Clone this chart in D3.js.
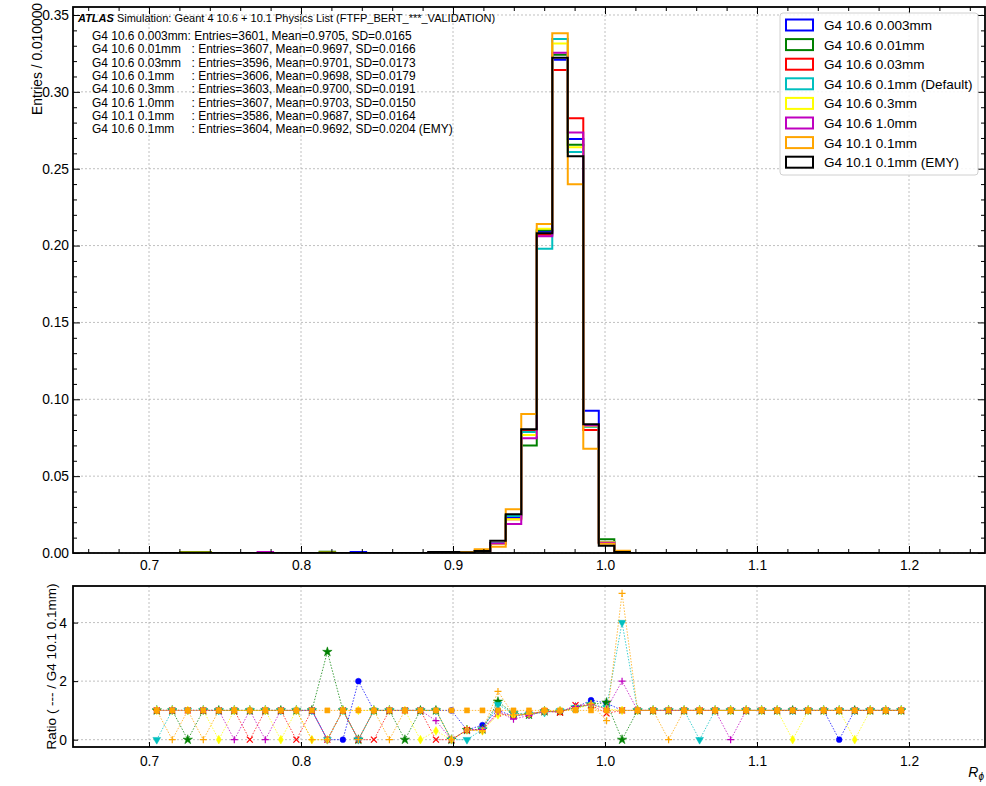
<!DOCTYPE html>
<html>
<head>
<meta charset="utf-8">
<script src="https://cdn.jsdelivr.net/npm/d3@7/dist/d3.min.js"></script>
<style>
  body { margin: 0; background: #fff; }
  text { font-family: "Liberation Sans", Arial, Helvetica, sans-serif; fill: #000; }
</style>
</head>
<body>
<svg id="chart" width="986" height="786"></svg>
<script>
// ---- binning (R_phi histogram: 49 bins between 0.70 and 1.20) ----
const binLow = 0.70, binHigh = 1.20, nBins = 49;

// ---- series ----
const seriesNames = ["G4 10.6 0.003mm", "G4 10.6 0.01mm", "G4 10.6 0.03mm", "G4 10.6 0.1mm (Default)",
                     "G4 10.6 0.3mm", "G4 10.6 1.0mm", "G4 10.1 0.1mm", "G4 10.1 0.1mm (EMY)"];
const seriesColors = ["#0000ff", "#008000", "#ff0000", "#00bfbf", "#ffff00", "#bf00bf", "#ffa500", "#000000"];

// normalised entries per bin (bins 0..48)
const hBlue    = [0,0,0,0,0,0,0,0,0,0,0,0,0,0.0006,0,0,0,0,0,0.0003,0.0004,0.0014,0.0062,0.0230,0.0800,0.2090,0.3209,0.2693,0.0926,0.0070,0.0006,0,0,0,0,0,0,0,0,0,0,0,0,0,0,0,0,0,0];
const hGreen   = [0,0,0.0006,0.0006,0,0,0,0,0,0,0,0.0008,0,0,0,0,0,0,0,0,0.0004,0.0012,0.0065,0.0248,0.0700,0.2100,0.3242,0.2656,0.0830,0.0089,0,0,0,0,0,0,0,0,0,0,0,0,0,0,0,0,0,0,0];
const hRed     = [0,0,0,0,0,0,0,0,0,0,0,0,0,0,0,0,0,0,0,0,0.0004,0.0012,0.0060,0.0220,0.0795,0.2070,0.3142,0.2828,0.0800,0.0066,0.0005,0,0,0,0,0,0,0,0,0,0,0,0,0,0,0,0,0,0];
const hCyan    = [0,0,0,0,0,0,0,0,0,0,0,0,0,0,0,0,0,0,0,0,0,0.0012,0.0063,0.0240,0.0787,0.1980,0.3344,0.2609,0.0820,0.0068,0.0011,0,0,0,0,0,0,0,0,0,0,0,0,0,0,0,0,0,0];
const hYellow  = [0,0,0,0,0,0,0,0,0,0,0,0,0,0,0,0,0,0,0,0,0.0004,0.0010,0.0058,0.0219,0.0768,0.2110,0.3314,0.2639,0.0825,0.0070,0.0003,0,0,0,0,0,0,0,0,0,0,0,0,0,0,0,0,0,0];
const hMagenta = [0,0,0,0,0,0,0,0.0006,0,0,0,0,0,0,0,0,0,0,0.0003,0,0.0004,0.0012,0.0062,0.0189,0.0746,0.2060,0.3255,0.2735,0.0830,0.0066,0.0006,0,0,0,0,0,0,0,0,0,0,0,0,0,0,0,0,0,0];
const hOrange  = [0,0,0.0003,0.0003,0,0,0,0,0,0,0,0.0003,0,0,0,0,0,0,0,0,0.0006,0.0024,0.0041,0.0284,0.0904,0.2140,0.3381,0.2399,0.0679,0.0060,0.0014,0,0,0,0,0,0,0,0,0,0,0,0,0,0,0,0,0,0];
const hBlack   = [0,0,0,0,0,0,0,0,0,0,0,0,0,0,0,0,0,0,0.0006,0.0006,0.0004,0.0013,0.0080,0.0252,0.0805,0.2080,0.3222,0.2581,0.0837,0.0047,0.0007,0,0,0,0,0,0,0,0,0,0,0,0,0,0,0,0,0,0];
const histValues = [hBlue, hGreen, hRed, hCyan, hYellow, hMagenta, hOrange, hBlack];

// summary statistics printed in the top-left corner
const statNames   = ["G4 10.6 0.003mm", "G4 10.6 0.01mm", "G4 10.6 0.03mm", "G4 10.6 0.1mm",
                     "G4 10.6 0.3mm", "G4 10.6 1.0mm", "G4 10.1 0.1mm", "G4 10.6 0.1mm"];
const statEntries = [3601, 3607, 3596, 3606, 3603, 3607, 3586, 3604];
const statMeans   = ["0.9705", "0.9697", "0.9701", "0.9698", "0.9700", "0.9703", "0.9687", "0.9692"];
const statSDs     = ["0.0165", "0.0166", "0.0173", "0.0179", "0.0191", "0.0150", "0.0164", "0.0204"];
const statSuffix  = ["", "", "", "", "", "", "", " (EMY)"];

// ratio to G4 10.1 0.1mm, per bin (bins 0..48)
const rBlue    = [1,1,1,1,1,1,1,1,1,1,1,0,0,2,1,1,1,1,1,1,0.33,0.5,1.0,0.8,0.88,0.97,0.95,1.1,1.35,1.25,1,1,1,1,1,1,1,1,1,1,1,1,1,1,0,1,1,1,1];
const rGreen   = [1,1,0,1,1,1,1,1,1,1,1,3,1,0,1,1,0,1,1,0,0.33,0.35,1.3,0.9,0.85,0.97,0.96,1.1,1.2,1.27,0,1,1,1,1,1,1,1,1,1,1,1,1,1,1,1,1,1,1];
const rRed     = [1,1,1,1,1,1,0,1,1,0,1,0,1,0,0,1,1,1,0,0,0.33,0.35,0.9,0.82,0.88,0.97,0.93,1.18,1.18,0.9,1,1,1,1,1,1,1,1,1,1,1,1,1,1,1,1,1,1,1];
const rCyan    = [0,1,1,1,1,1,1,1,1,1,1,0,1,0,1,1,1,1,1,0,0,0.35,1.2,0.9,0.87,0.93,0.99,1.09,1.2,1.1,4.0,1,1,1,1,0,1,1,1,1,1,1,1,1,1,1,1,1,1];
const rYellow  = [1,1,1,1,0,1,1,1,0,1,0,0,1,1,1,1,1,0,0.3,0,0.33,0.3,0.85,0.82,0.87,0.98,0.98,1.05,1.2,1.05,1,1,1,1,1,1,1,1,1,1,1,0,1,1,1,0,1,1,1];
const rMagenta = [1,1,1,1,1,0,1,0,1,1,1,0,1,0,1,1,1,1,0.65,0,0.33,0.35,0.95,0.7,0.83,0.97,0.96,1.13,1.2,1.05,2.0,1,1,1,1,1,1,0,1,1,1,1,1,1,1,1,1,1,1];
const rEMY     = [1,0,1,0,1,1,1,1,1,1,0,0,1,0,1,0,1,1,1,0,0.33,0.3,1.65,0.85,0.88,0.97,0.95,1.08,1.22,0.65,5.0,1,1,0,1,1,1,1,1,1,1,1,1,1,1,1,1,1,1];
const rSelf    = [1,1,1,1,1,1,1,1,1,1,1,1,1,1,1,1,1,1,1,1,1,1,1,1,1,1,1,1,1,1,1,1,1,1,1,1,1,1,1,1,1,1,1,1,1,1,1,1,1];
const ratioValues  = [rBlue, rGreen, rRed, rCyan, rYellow, rMagenta, rEMY, rSelf];
const ratioColors  = ["#0000ff", "#008000", "#ff0000", "#00bfbf", "#ffff00", "#bf00bf", "#ffa500", "#ffa500"];
const ratioMarkers = ["circle", "star", "x", "tri", "diamond", "plus", "plus", "square"];

// ticks
const xMajor = [0.7, 0.8, 0.9, 1.0, 1.1, 1.2];
const yMajor = [0.00, 0.05, 0.10, 0.15, 0.20, 0.25, 0.30, 0.35];
const rMajor = [0, 2, 4];

// ---- layout ----
const L = 73, R = 985;
const topT = 7, topB = 553;
const botT = 586, botB = 747;

const svg = d3.select("#chart");
const x  = d3.scaleLinear().domain([0.65, 1.25]).range([L, R]);
const y  = d3.scaleLinear().domain([0, 0.3552]).range([topB, topT]);
const yr = d3.scaleLinear().domain([-0.25, 5.25]).range([botB, botT]);

const edges = d3.range(nBins + 1).map(i => binLow + i * (binHigh - binLow) / nBins);
const centers = d3.range(nBins).map(i => (edges[i] + edges[i + 1]) / 2);

svg.append("rect").attr("width", 986).attr("height", 786).attr("fill", "#fff");

function grid(g, xs, ys, yScale, top, bot) {
  xs.forEach(v => g.append("line").attr("x1", x(v)).attr("x2", x(v)).attr("y1", top).attr("y2", bot)
    .attr("stroke", "#b0b0b0").attr("stroke-width", 0.8).attr("stroke-dasharray", "2,2"));
  ys.forEach(v => g.append("line").attr("x1", L).attr("x2", R).attr("y1", yScale(v)).attr("y2", yScale(v))
    .attr("stroke", "#b0b0b0").attr("stroke-width", 0.8).attr("stroke-dasharray", "2,2"));
}

// ---------- top panel ----------
const gTop = svg.append("g");
grid(gTop, xMajor, yMajor, y, topT, topB);

const defs = svg.append("defs");
defs.append("clipPath").attr("id", "clipTop")
  .append("rect").attr("x", L).attr("y", topT).attr("width", R - L).attr("height", topB - topT);
defs.append("clipPath").attr("id", "clipBot")
  .append("rect").attr("x", L).attr("y", botT).attr("width", R - L).attr("height", botB - botT);

const gHist = gTop.append("g").attr("clip-path", "url(#clipTop)");
histValues.forEach((vals, s) => {
  const pts = [[edges[0], 0]];
  vals.forEach((v, i) => { pts.push([edges[i], v]); pts.push([edges[i + 1], v]); });
  pts.push([edges[nBins], 0]);
  gHist.append("path")
    .attr("d", d3.line().x(d => x(d[0])).y(d => y(d[1]))(pts))
    .attr("fill", "none").attr("stroke", seriesColors[s]).attr("stroke-width", 2)
    .attr("stroke-linejoin", "miter");
});

// axes (ticks inward, on all four sides)
const xMinor = d3.range(0.66, 1.2501, 0.02).filter(v => !xMajor.some(m => Math.abs(m - v) < 1e-6));
const yMinor = d3.range(0.01, 0.355, 0.01).filter(v => !yMajor.some(m => Math.abs(m - v) < 1e-6));

gTop.append("g").attr("transform", `translate(0,${topB})`)
  .call(d3.axisBottom(x).tickValues(xMajor).tickSize(-7).tickPadding(7).tickFormat(d3.format(".1f")));
gTop.append("g").attr("transform", `translate(0,${topB})`)
  .call(d3.axisBottom(x).tickValues(xMinor).tickSize(-4).tickFormat(""));
gTop.append("g").attr("transform", `translate(0,${topT})`)
  .call(d3.axisTop(x).tickValues(xMajor).tickSize(-7).tickFormat(""));
gTop.append("g").attr("transform", `translate(0,${topT})`)
  .call(d3.axisTop(x).tickValues(xMinor).tickSize(-4).tickFormat(""));
gTop.append("g").attr("transform", `translate(${L},0)`)
  .call(d3.axisLeft(y).tickValues(yMajor).tickSize(-7).tickPadding(4).tickFormat(d3.format(".2f")));
gTop.append("g").attr("transform", `translate(${L},0)`)
  .call(d3.axisLeft(y).tickValues(yMinor).tickSize(-4).tickFormat(""));
gTop.append("g").attr("transform", `translate(${R},0)`)
  .call(d3.axisRight(y).tickValues(yMajor).tickSize(-7).tickFormat(""));
gTop.append("g").attr("transform", `translate(${R},0)`)
  .call(d3.axisRight(y).tickValues(yMinor).tickSize(-4).tickFormat(""));

gTop.append("rect").attr("x", L).attr("y", topT).attr("width", R - L).attr("height", topB - topT)
  .attr("fill", "none").attr("stroke", "#000").attr("stroke-width", 1.8);

// y label
gTop.append("text").attr("transform", `translate(42,3) rotate(-90)`)
  .attr("text-anchor", "end").attr("font-size", 13.8).text("Entries / 0.010000");

// title and statistics
const title = gTop.append("text").attr("x", 78).attr("y", 22).attr("font-size", 11);
title.append("tspan").attr("font-weight", "bold").attr("font-style", "italic").text("ATLAS");
title.append("tspan").text(" Simulation: Geant 4 10.6 + 10.1 Physics List (FTFP_BERT_***_VALIDATION)");

// size the statistics font so that the first line spans 92 -> 412 px
const statG = gTop.append("g");
const rests = statNames.map((n, i) =>
  `: Entries=${statEntries[i]}, Mean=${statMeans[i]}, SD=${statSDs[i]}${statSuffix[i]}`);
const probe = statG.append("text").attr("font-size", 12).text(statNames[0] + rests[0]);
const statFont = 12 * 320 / probe.node().getComputedTextLength();
probe.remove();
let colonX = 0;
statNames.forEach((n, i) => {
  const yy = 40 + i * 13.3;
  const t = statG.append("text").attr("x", 92).attr("y", yy).attr("font-size", statFont).text(n);
  if (i === 0) colonX = 92 + t.node().getComputedTextLength();
  statG.append("text").attr("x", i === 0 ? colonX : colonX + 4).attr("y", yy)
    .attr("font-size", statFont).text(rests[i]);
});

// legend
const lg = gTop.append("g");
lg.append("rect").attr("x", 780).attr("y", 13).attr("width", 198).attr("height", 162).attr("rx", 3)
  .attr("fill", "#fff").attr("fill-opacity", 0.85).attr("stroke", "#d0d0d0").attr("stroke-width", 1);
seriesNames.forEach((n, i) => {
  const cy = 25 + i * 19.6;
  lg.append("rect").attr("x", 786).attr("y", cy - 5.5).attr("width", 27).attr("height", 11)
    .attr("fill", "none").attr("stroke", seriesColors[i]).attr("stroke-width", 2);
  lg.append("text").attr("x", 824).attr("y", cy + 5).attr("font-size", 13.5).text(n);
});

// ---------- ratio panel ----------
const gBot = svg.append("g");
grid(gBot, xMajor, rMajor, yr, botT, botB);

const gR = gBot.append("g").attr("clip-path", "url(#clipBot)");
function marker(g, type, cx, cy, color) {
  const sym = { circle: d3.symbolCircle, star: d3.symbolStar, tri: d3.symbolTriangle,
                diamond: d3.symbolDiamond, square: d3.symbolSquare }[type];
  const sizes = { circle: 26, star: 28, tri: 26, diamond: 22, square: 26 };
  if (sym) {
    g.append("path").attr("d", d3.symbol().type(sym).size(sizes[type])())
      .attr("transform", `translate(${cx},${cy})${type === "tri" ? " rotate(180)" : ""}`)
      .attr("fill", color).attr("stroke", color).attr("stroke-width", 0.5);
  } else {
    const s = 3;
    const d = type === "x"
      ? `M${-s},${-s}L${s},${s}M${-s},${s}L${s},${-s}`
      : `M${-s - 0.5},0L${s + 0.5},0M0,${-s - 0.5}L0,${s + 0.5}`;
    g.append("path").attr("d", d).attr("transform", `translate(${cx},${cy})`)
      .attr("fill", "none").attr("stroke", color).attr("stroke-width", 1.2);
  }
}
ratioValues.forEach((vals, s) => {
  gR.append("path")
    .attr("d", d3.line().x((d, i) => x(centers[i])).y(d => yr(d))(vals))
    .attr("fill", "none").attr("stroke", ratioColors[s]).attr("stroke-width", 1)
    .attr("stroke-dasharray", "1.5,1.5").attr("stroke-opacity", 0.75);
  vals.forEach((v, i) => marker(gR, ratioMarkers[s], x(centers[i]), yr(v), ratioColors[s]));
});

gBot.append("g").attr("transform", `translate(0,${botB})`)
  .call(d3.axisBottom(x).tickValues(xMajor).tickSize(-5).tickPadding(9).tickFormat(d3.format(".1f")));
gBot.append("g").attr("transform", `translate(${L},0)`)
  .call(d3.axisLeft(yr).tickValues(rMajor).tickSize(-5).tickPadding(6).tickFormat(d3.format("d")));
gBot.append("rect").attr("x", L).attr("y", botT).attr("width", R - L).attr("height", botB - botT)
  .attr("fill", "none").attr("stroke", "#000").attr("stroke-width", 1.8);

gBot.append("text").attr("transform", `translate(56,${(botT + botB) / 2}) rotate(-90)`)
  .attr("text-anchor", "middle").attr("font-size", 13.5).text("Ratio ( --- / G4 10.1 0.1mm)");

const xl = gBot.append("text").attr("x", 984).attr("y", 777).attr("text-anchor", "end")
  .attr("font-size", 14).attr("font-style", "italic");
xl.append("tspan").text("R");
xl.append("tspan").attr("font-size", 10).attr("dy", 3).text("ϕ");

// axis styling
svg.selectAll(".domain").remove();
svg.selectAll(".tick line").attr("stroke", "#000").attr("stroke-width", 1);
svg.selectAll(".tick text").attr("font-size", 13.8).attr("font-family", "Liberation Sans, Arial, sans-serif").attr("fill", "#000");
</script>
</body>
</html>
